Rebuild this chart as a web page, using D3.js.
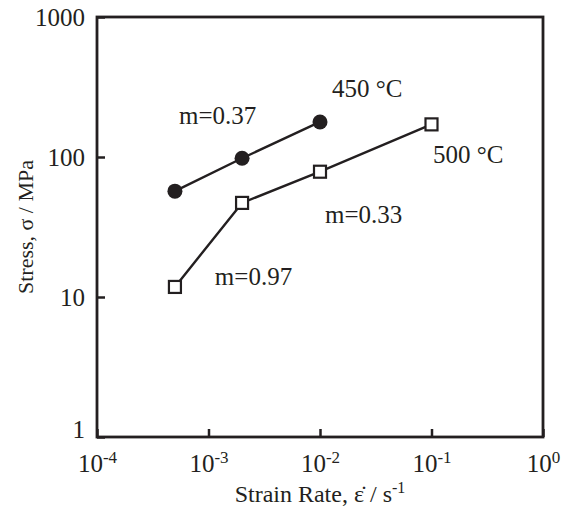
<!DOCTYPE html>
<html>
<head>
<meta charset="utf-8">
<script src="https://cdn.jsdelivr.net/npm/d3@7/dist/d3.min.js"></script>
<style>
  body { margin: 0; background: #fff; }
  text { font-family: "Liberation Serif", "Times New Roman", serif; fill: #231f20; }
</style>
</head>
<body>
<div id="chart"></div>
<script>
// strain rates (1/s) and stresses (MPa)
var rate450 = [5e-4, 2e-3, 1e-2];
var stress450 = [57, 98, 178];
var rate500 = [5e-4, 2e-3, 1e-2, 1e-1];
var stress500 = [11.8, 47, 78.5, 171];

var xTicks = [-4, -3, -2, -1, 0];      // exponents
var yTicks = [1, 10, 100, 1000];

var annotations = [
    {text: "450 °C", x: 1.28e-2, y: 270},
    {text: "500 °C", x: 1.03e-1, y: 90},
    {text: "m=0.37", x: 5.44e-4, y: 172},
    {text: "m=0.97", x: 1.14e-3, y: 12.2},
    {text: "m=0.33", x: 1.11e-2, y: 33.8}
];

var margin = {top: 17, right: 26, bottom: 74, left: 97};
var width = 569 - margin.left - margin.right;
var height = 511 - margin.top - margin.bottom;
var ink = "#231f20";

var svg = d3.select("#chart").append("svg")
    .attr("width", 569)
    .attr("height", 511);

var g = svg.append("g")
    .attr("transform", "translate(" + margin.left + "," + margin.top + ")");

var x = d3.scaleLog().domain([1e-4, 1]).range([0, width]);
var y = d3.scaleLog().domain([1, 1000]).range([height, 0]);

// bottom axis, ticks pointing inward
var xAxis = g.append("g")
    .attr("transform", "translate(0," + height + ")")
    .call(d3.axisBottom(x)
        .tickValues(xTicks.map(function(e) { return Math.pow(10, e); }))
        .tickSizeInner(-8).tickSizeOuter(0).tickPadding(10)
        .tickFormat(""));
xAxis.select(".domain").remove();
xAxis.selectAll(".tick line").attr("stroke", ink).attr("stroke-width", 2.5);
xAxis.selectAll(".tick text").each(function(d) {
    var t = d3.select(this)
        .attr("font-size", 25)
        .attr("dy", "1.0em");
    t.append("tspan").text("10");
    t.append("tspan").attr("font-size", 17).attr("dy", "-0.55em")
        .text(Math.round(Math.log10(d)));
});

// left axis
var yAxis = g.append("g")
    .call(d3.axisLeft(y)
        .tickValues(yTicks)
        .tickSizeInner(-8).tickSizeOuter(0).tickPadding(12)
        .tickFormat(d3.format("d")));
yAxis.select(".domain").remove();
yAxis.selectAll(".tick line").attr("stroke", ink).attr("stroke-width", 2.5);
yAxis.selectAll(".tick text")
    .attr("font-size", 25)
    .attr("fill", ink)
    .attr("dy", function(d) { return d === 1 ? "0em" : "0.32em"; });

// frame
g.append("rect")
    .attr("width", width)
    .attr("height", height)
    .attr("fill", "none")
    .attr("stroke", ink)
    .attr("stroke-width", 2.8);

var line = d3.line()
    .x(function(d) { return x(d[0]); })
    .y(function(d) { return y(d[1]); });

var pts450 = d3.zip(rate450, stress450);
var pts500 = d3.zip(rate500, stress500);

g.append("path").datum(pts450)
    .attr("d", line)
    .attr("fill", "none").attr("stroke", ink).attr("stroke-width", 2.4);
g.append("path").datum(pts500)
    .attr("d", line)
    .attr("fill", "none").attr("stroke", ink).attr("stroke-width", 2.4);

g.selectAll(".dot450").data(pts450).enter().append("circle")
    .attr("cx", function(d) { return x(d[0]); })
    .attr("cy", function(d) { return y(d[1]); })
    .attr("r", 7.5)
    .attr("fill", ink);

g.selectAll(".sq500").data(pts500).enter().append("rect")
    .attr("x", function(d) { return x(d[0]) - 6; })
    .attr("y", function(d) { return y(d[1]) - 6; })
    .attr("width", 12)
    .attr("height", 12)
    .attr("fill", "#fff")
    .attr("stroke", ink)
    .attr("stroke-width", 2.2);

g.selectAll(".note").data(annotations).enter().append("text")
    .attr("x", function(d) { return x(d.x); })
    .attr("y", function(d) { return y(d.y); })
    .attr("font-size", 25)
    .text(function(d) { return d.text; });

// axis titles
var xt = svg.append("text")
    .attr("x", margin.left + width / 2)
    .attr("y", 502)
    .attr("text-anchor", "middle")
    .attr("font-size", 24);
xt.append("tspan").text("Strain Rate, \u03B5\u0307 / s");
xt.append("tspan").attr("font-size", 16).attr("dy", "-0.55em").text("-1");

svg.append("text")
    .attr("transform", "translate(33," + (margin.top + height / 2) + ")rotate(-90)")
    .attr("text-anchor", "middle")
    .attr("font-size", 22)
    .text("Stress, \u03C3 / MPa");
</script>
</body>
</html>
